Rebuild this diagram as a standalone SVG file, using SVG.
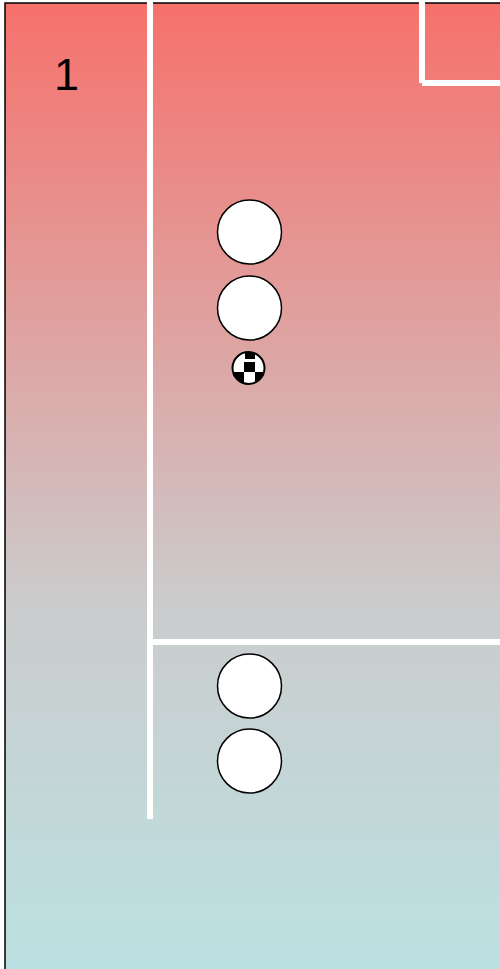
<svg xmlns="http://www.w3.org/2000/svg" width="500" height="969" viewBox="0 0 500 969">
  <defs>
    <linearGradient id="bg" x1="0" y1="0" x2="0" y2="1">
      <stop offset="0" stop-color="#f6716c"/>
      <stop offset="0.62" stop-color="#cbcccd"/>
      <stop offset="1" stop-color="#bbe1e2"/>
    </linearGradient>
    <clipPath id="ballClip"><circle cx="248.5" cy="368" r="16"/></clipPath>
  </defs>
  <style>
    .line { stroke: #ffffff; stroke-width: 6; fill: none; }
    .player { fill: #ffffff; stroke: #000000; stroke-width: 1.5; }
    .label { font-family: "Liberation Sans", Arial, sans-serif; font-size: 45px; fill: #000000; }
  </style>
  <rect id="field" x="5" y="3" width="500" height="975" fill="url(#bg)" stroke="#000" stroke-width="1.5"/>
  <g id="lines">
    <line class="line" x1="150" y1="0" x2="150" y2="819"/>
    <line class="line" x1="153" y1="642" x2="500" y2="642"/>
    <line class="line" x1="422" y1="0" x2="422" y2="83"/>
    <line class="line" x1="422" y1="83" x2="500" y2="83"/>
  </g>
  <g id="label-1"><text class="label" x="54" y="90">1</text></g>
  <g id="player-1"><circle class="player" cx="249.5" cy="232" r="32"/></g>
  <g id="player-2"><circle class="player" cx="249.5" cy="308" r="32"/></g>
  <g id="player-3"><circle class="player" cx="249.5" cy="686" r="32"/></g>
  <g id="player-4"><circle class="player" cx="249.5" cy="761" r="32"/></g>
  <g id="ball">
    <circle cx="248.5" cy="368" r="16" fill="#fff"/>
    <g clip-path="url(#ballClip)" fill="#000">
      <rect x="232" y="350" width="7" height="7"/>
      <rect x="245" y="350" width="10" height="9"/>
      <rect x="244" y="362" width="11" height="10"/>
      <rect x="232" y="372" width="12" height="14"/>
      <rect x="255" y="372" width="12" height="14"/>
      <rect x="261" y="352" width="6" height="6"/>
    </g>
    <circle cx="248.5" cy="368" r="16" fill="none" stroke="#000" stroke-width="2"/>
  </g>
</svg>
